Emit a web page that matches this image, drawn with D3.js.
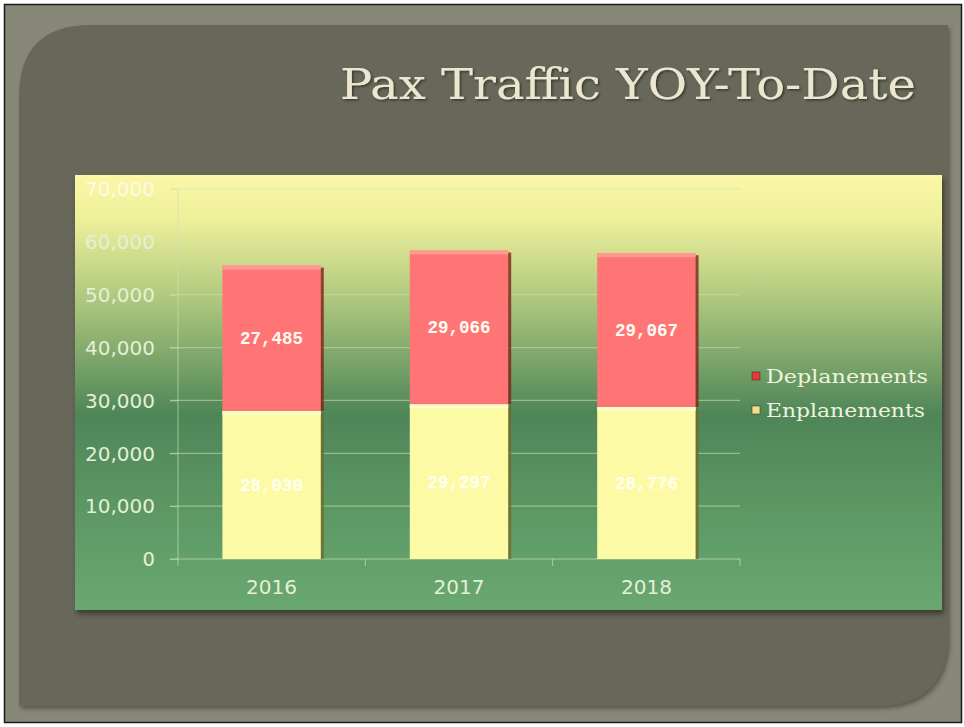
<!DOCTYPE html>
<html><head><meta charset="utf-8">
<script src="https://cdn.jsdelivr.net/npm/d3@7"></script>
<style>html,body{margin:0;padding:0;background:#858676;}svg{display:block}</style>
</head><body>
<script>
const categories = ["2016","2017","2018"];
const seriesNames = ["Enplanements","Deplanements"];
const enplanements = [28030, 29297, 28776];
const deplanements = [27485, 29066, 29067];
const yTicks = [0,10000,20000,30000,40000,50000,60000,70000];

const W=964,H=727;
const svg=d3.select("body").append("svg").attr("width",W).attr("height",H);
const defs=svg.append("defs");

// outer frame
svg.append("rect").attr("x",0).attr("y",0).attr("width",W).attr("height",H).attr("fill","#ffffff");
svg.append("rect").attr("x",4.5).attr("y",4.5).attr("width",957).attr("height",718).attr("fill","#878877").attr("stroke","#1a1a1a").attr("stroke-width",1.5);

// inner panel with rounded TL and BR corners
const px0=19,py0=25,px1=948,py1=706,r=72;
defs.append("filter").attr("id","pshadow").html('<feDropShadow dx="2" dy="3" stdDeviation="2" flood-color="#3a3a30" flood-opacity="0.6"/>');
svg.append("path").attr("d",`M${px0},${py0+r} Q${px0},${py0} ${px0+r},${py0} L${px1},${py0} L${px1},${py1-r} Q${px1},${py1} ${px1-r},${py1} L${px0},${py1} Z`)
  .attr("fill","#67675a").attr("filter","url(#pshadow)");

// title
defs.append("filter").attr("id","tshadow").html('<feDropShadow dx="1.5" dy="1.5" stdDeviation="1" flood-color="#2a2a22" flood-opacity="0.8"/>');
svg.append("text").attr("x",916).attr("y",99).attr("text-anchor","end")
  .attr("font-family","DejaVu Serif, serif").attr("font-size",43).attr("fill","#ebe6cf")
  .attr("filter","url(#tshadow)").attr("textLength",576).attr("lengthAdjust","spacingAndGlyphs")
  .text("Pax Traffic YOY-To-Date");

// chart area
const ca={x:75,y:175,w:867,h:435};
const g1=defs.append("linearGradient").attr("id","bg").attr("x1",0).attr("y1",0).attr("x2",0).attr("y2",1);
[[0,"#fbf8a8"],[0.1,"#eef09a"],[0.3,"#a9c47c"],[0.55,"#4f8658"],[0.8,"#5e9a66"],[1,"#6aa870"]].forEach(s=>g1.append("stop").attr("offset",s[0]).attr("stop-color",s[1]));
defs.append("filter").attr("id","cshadow").html('<feDropShadow dx="2" dy="4" stdDeviation="2.5" flood-color="#2c2c24" flood-opacity="0.7"/>');
svg.append("rect").attr("x",ca.x).attr("y",ca.y).attr("width",ca.w).attr("height",ca.h).attr("fill","url(#bg)").attr("filter","url(#cshadow)");

// scales
const x=d3.scaleBand().domain(categories).range([178,740]).paddingInner(0.475).paddingOuter(0.237);
const y=d3.scaleLinear().domain([0,70000]).range([559,189]);

// gridlines
const grid=svg.append("g");
grid.selectAll("line").data(yTicks.slice(1)).join("line")
  .attr("x1",170).attr("x2",740).attr("y1",d=>y(d)).attr("y2",d=>y(d))
  .attr("stroke","#c9e3b4").attr("stroke-opacity",0.55).attr("stroke-width",1.2);

// y axis
const ya=svg.append("g").attr("transform","translate(178,0)").call(d3.axisLeft(y).tickValues(yTicks).tickSize(8).tickFormat(d3.format(",")));
ya.select(".domain").attr("stroke","#c9e3b4").attr("stroke-opacity",0.55).attr("stroke-width",1.2).attr("d","M0,189V559");
ya.selectAll(".tick line").attr("stroke","#c9e3b4").attr("stroke-opacity",0.55);
ya.selectAll(".tick text").attr("x",-23).attr("dy","0.35em").attr("font-family","DejaVu Sans, sans-serif").attr("font-size",19.5)
  .attr("textLength",70).attr("lengthAdjust","spacingAndGlyphs")
  .attr("fill",d=>d===70000?"#fdfbe4":"#e4f0d8");
ya.selectAll(".tick text").filter(d=>d===0).attr("textLength",null);

// x axis
const xa=svg.append("g").attr("transform","translate(0,559)").call(d3.axisBottom(x).tickSize(0).tickPadding(21));
xa.select(".domain").remove();
svg.append("line").attr("x1",170).attr("x2",740).attr("y1",559).attr("y2",559).attr("stroke","#c9e3b4").attr("stroke-opacity",0.7).attr("stroke-width",1.2);
const xt=[0,1,2,3].map(i=>178+i*(740-178)/3);
svg.selectAll(".xtk").data(xt).join("line").attr("x1",d=>d).attr("x2",d=>d).attr("y1",559).attr("y2",566).attr("stroke","#c9e3b4").attr("stroke-opacity",0.7);
xa.selectAll(".tick text").attr("font-family","DejaVu Sans, sans-serif").attr("font-size",20).attr("fill","#e4f0d8")
  .attr("textLength",51).attr("lengthAdjust","spacingAndGlyphs");

// stacked data
const rows=categories.map((c,i)=>({cat:c,Enplanements:enplanements[i],Deplanements:deplanements[i]}));
const stack=d3.stack().keys(seriesNames)(rows);
const fills={Enplanements:"#fdfaa6",Deplanements:"#ff7474"};
const edges={Enplanements:"#6f6a2a",Deplanements:"#7a2418"};
const tops={Enplanements:"#fffcc8",Deplanements:"#ff9a92"};
const bars=svg.append("g");
stack.forEach(layer=>{
  const key=layer.key;
  layer.forEach((d,i)=>{
    const bx=x(d.data.cat), bw=x.bandwidth(), yt=y(d[1]), yb=y(d[0]);
    bars.append("rect").attr("x",bx+bw-1).attr("y",yt+2).attr("width",4).attr("height",yb-yt-2).attr("fill",edges[key]).attr("opacity",0.8);
    bars.append("rect").attr("x",bx).attr("y",yt).attr("width",bw).attr("height",yb-yt).attr("fill",fills[key]);
    bars.append("rect").attr("x",bx).attr("y",yt).attr("width",bw).attr("height",4).attr("fill",tops[key]);
  });
});
// labels
const lbl=svg.append("g");
const fmt=d3.format(",");
stack.forEach(layer=>{
  layer.forEach(d=>{
    const v=d[1]-d[0];
    lbl.append("text").attr("x",x(d.data.cat)+x.bandwidth()/2).attr("y",(y(d[0])+y(d[1]))/2+6)
      .attr("text-anchor","middle").attr("font-family","Liberation Mono, monospace").attr("font-weight","bold").attr("font-size",17.5)
      .attr("textLength",63).attr("lengthAdjust","spacingAndGlyphs")
      .attr("fill",layer.key==="Enplanements"?"#fffff2":"#fffdf4").text(fmt(v));
  });
});

// legend
const leg=svg.append("g");
[["Deplanements","#e03a3a",377,162],["Enplanements","#e8e48a",411,159]].forEach(([t,c,ly,tl])=>{
  leg.append("rect").attr("x",752).attr("y",ly-5).attr("width",8).attr("height",8).attr("fill",c).attr("stroke","#5a3020").attr("stroke-width",0.6);
  leg.append("text").attr("x",766).attr("y",ly+6).attr("font-family","DejaVu Serif, serif").attr("font-size",19).attr("fill","#eef4de")
    .attr("textLength",tl).attr("lengthAdjust","spacingAndGlyphs").text(t);
});
</script>
</body></html>
